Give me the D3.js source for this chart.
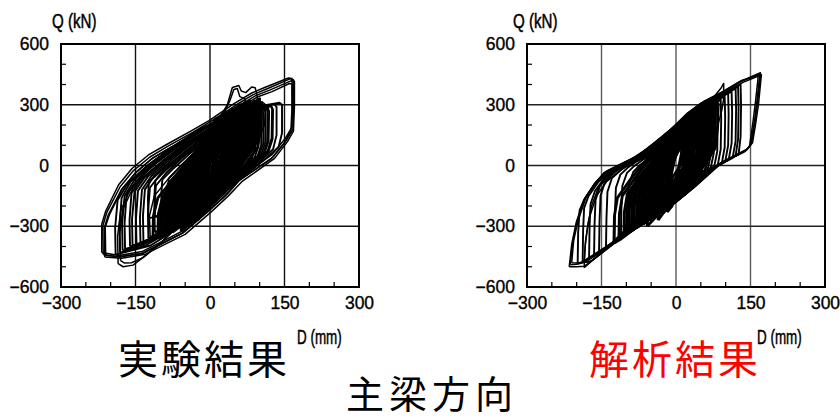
<!DOCTYPE html>
<html>
<head>
<meta charset="utf-8">
<script src="https://cdn.jsdelivr.net/npm/d3@7"></script>
<style>
  html, body { margin: 0; padding: 0; background: #fff; }
  svg { display: block; }
  .tick text { font-family: "Liberation Sans", Arial, sans-serif; }
</style>
</head>
<body>
<svg id="chart" width="840" height="420"></svg>
<script>
// Axis settings (D in mm, Q in kN)
const xTicks = [-300, -150, 0, 150, 300];
const yTicks = [-600, -300, 0, 300, 600];
const xMinor = [-250, -200, -100, -50, 50, 100, 200, 250];
const yMinor = [-500, -400, -200, -100, 100, 200, 400, 500];

// Test hysteresis: each loop is a flat list of D,Q pairs
const expOuter = [
  [-215,-440, -216,-300, -208,-233, -181,-105, -154,-25, -121,42, -87,92, -34,165, 0,215, 50,295, 87,350, 114,378, 161,428, 168,423, 168,300, 167,180, 154,125, 127,42, 60,-72, 34,-143, 0,-220, -54,-333, -101,-392, -134,-432, -181,-452, -215,-440],
  [-212,-452, -213,-310, -205,-245, -178,-118, -150,-38, -118,32, -84,82, -30,155, 4,210, 55,290, 92,345, 120,372, 163,418, 170,416, 170,290, 168,170, 156,118, 130,35, 64,-80, 37,-150, 3,-228, -50,-340, -98,-398, -130,-438, -178,-458, -212,-452],
  [-218,-430, -218,-290, -210,-225, -184,-95, -157,-15, -124,52, -90,100, -37,172, -2,222, 46,302, 84,358, 110,385, 158,432, 165,430, 166,310, 165,190, 152,135, 124,52, 57,-62, 31,-135, -3,-212, -57,-325, -104,-385, -137,-425, -183,-445, -218,-430],
  [-210,-445, -211,-305, -202,-240, -176,-112, -148,-30, -115,38, -80,88, -28,160, 6,212, 58,285, 95,338, 125,365, 160,405, 165,402, 165,280, 163,175, 150,112, 122,30, 55,-78, 30,-150, -5,-225, -58,-337, -105,-395, -138,-436, -186,-450, -210,-445],
  [-185,-485, -186,-350, -180,-225, -160,-115, -130,-25, -95,45, -40,140, 0,200, 40,265, 75,300, 105,315, 112,300, 110,200, 92,100, 55,0, 22,-85, -20,-185, -60,-290, -100,-385, -130,-445, -155,-492, -175,-500, -185,-485],
  [-180,-470, -182,-340, -176,-220, -155,-110, -125,-20, -90,48, -35,142, 5,205, 45,268, 80,305, 100,310, 104,295, 102,190, 85,95, 50,-5, 18,-90, -25,-195, -65,-300, -105,-395, -135,-455, -158,-480, -172,-482, -180,-470],
  [-120,-380, -122,-250, -112,-150, -82,-60, -42,40, -8,130, 18,230, 35,300, 45,385, 58,395, 63,368, 72,360, 84,388, 91,384, 95,340, 96,250, 90,180, 70,100, 40,0, 10,-80, -30,-180, -72,-285, -100,-340, -120,-380],
  [-100,-360, -101,-240, -90,-140, -60,-40, -25,60, 5,150, 25,240, 40,320, 48,375, 55,380, 60,340, 70,330, 76,290, 75,200, 62,120, 35,20, 5,-70, -35,-170, -70,-270, -100,-360]
];

const expMedium = [
  [-190,-440, -191,-310, -186,-170, -166,-90, -126,0, -76,90, -26,170, 34,245, 94,290, 140,310, 145,300, 145,160, 138,90, 110,30, 70,-50, 30,-130, -20,-230, -70,-320, -120,-395, -190,-440],
  [-181,-430, -182,-300, -178,-160, -160,-80, -120,10, -70,100, -20,180, 40,250, 100,292, 130,302, 134,290, 134,150, 127,80, 100,20, 60,-60, 20,-140, -30,-235, -80,-325, -130,-395, -181,-430],
  [-176,-420, -177,-290, -172,-150, -152,-70, -112,15, -66,100, -16,178, 44,250, 98,286, 122,296, 125,280, 124,135, 116,72, 88,10, 48,-70, 8,-152, -42,-248, -92,-338, -138,-392, -176,-420],
  [-171,-412, -172,-285, -168,-145, -148,-75, -108,12, -62,98, -12,178, 48,250, 100,285, 124,292, 127,275, 126,130, 118,70, 92,12, 52,-68, 12,-150, -38,-245, -88,-335, -135,-390, -171,-412],
  [-161,-400, -162,-270, -158,-135, -138,-65, -98,18, -52,105, -2,182, 55,248, 100,278, 117,284, 119,265, 118,120, 110,62, 84,4, 44,-74, 4,-156, -46,-252, -96,-340, -140,-385, -161,-400],
  [-156,-395, -157,-265, -152,-130, -132,-60, -94,22, -48,106, 2,184, 58,246, 98,274, 114,280, 116,262, 115,115, 107,58, 80,0, 40,-80, 0,-160, -50,-258, -98,-340, -144,-388, -156,-395],
  [-148,-390, -149,-262, -145,-125, -125,-55, -88,25, -44,108, 6,185, 60,245, 96,270, 110,276, 112,258, 111,110, 103,55, 78,-3, 38,-82, -4,-164, -54,-262, -100,-340, -148,-390],
  [-140,-385, -141,-255, -137,-120, -118,-52, -82,28, -38,110, 10,186, 62,244, 94,266, 106,272, 108,254, 107,105, 99,52, 75,-6, 35,-85, -7,-167, -57,-266, -102,-341, -140,-385],
  [-134,-378, -135,-250, -131,-118, -112,-50, -76,30, -34,112, 14,188, 64,242, 92,262, 102,268, 104,250, 103,100, 96,48, 72,-10, 32,-88, -10,-170, -60,-270, -104,-342, -134,-378],
  [-124,-360, -125,-240, -121,-110, -100,-42, -65,35, -24,116, 22,190, 68,240, 88,256, 96,262, 98,240, 97,92, 90,40, 66,-16, 26,-96, -16,-178, -66,-276, -106,-335, -124,-360],
  [-111,-330, -112,-220, -109,-100, -88,-36, -55,40, -15,120, 30,195, 70,240, 84,250, 90,255, 92,232, 91,85, 84,32, 60,-22, 20,-104, -22,-186, -70,-278, -111,-330],
  [-124,-260, -125,-160, -123,-80, -100,-30, -60,50, -20,130, 30,200, 70,235, 80,240, 82,210, 80,120, 60,40, 30,-40, -10,-130, -60,-210, -100,-250, -124,-260],
  [-111,-250, -112,-150, -110,-75, -90,-25, -50,55, -10,135, 35,205, 65,232, 74,236, 76,205, 74,115, 55,35, 25,-45, -15,-135, -62,-215, -95,-245, -111,-250],
  [-97,-245, -98,-140, -96,-70, -76,-20, -40,60, 0,140, 40,208, 60,228, 66,230, 68,200, 66,110, 48,30, 18,-50, -20,-140, -65,-220, -90,-240, -97,-245],
  [-84,-238, -85,-130, -83,-65, -64,-15, -30,65, 8,145, 42,205, 56,222, 60,225, 61,195, 60,105, 42,25, 12,-55, -25,-145, -62,-222, -84,-238],
  [-64,-232, -65,-130, -63,-68, -45,-10, -15,70, 18,150, 40,200, 50,215, 52,190, 51,100, 35,20, 8,-60, -25,-150, -50,-215, -64,-232],
  [-90,-300, -91,-180, -85,-90, -60,-20, -20,70, 20,160, 50,220, 78,262, 85,265, 86,240, 85,100, 70,40, 40,-40, 0,-130, -45,-225, -90,-300],
  [-80,-290, -81,-170, -75,-85, -50,-15, -10,75, 25,165, 55,230, 70,258, 74,260, 75,235, 74,95, 60,35, 30,-45, -10,-140, -50,-235, -80,-290],
  [-70,-280, -71,-165, -65,-80, -40,-10, 0,85, 30,170, 52,225, 62,248, 65,250, 66,225, 65,90, 50,28, 20,-55, -20,-150, -50,-240, -70,-280]
];

const expCore = [
  [-58,-325, -57,-140, -45,-60, 0,100, 40,220, 62,300, 61,120, 50,40, 0,-120, -40,-250, -58,-325],
  [-52,-315, -51,-135, -40,-55, 0,95, 36,215, 55,290, 54,115, 44,35, 0,-118, -36,-245, -52,-315],
  [-46,-300, -45,-130, -35,-50, 0,90, 32,210, 50,282, 49,110, 40,32, 0,-112, -32,-238, -46,-300],
  [-40,-290, -39,-120, -30,-45, 0,80, 28,205, 45,275, 44,105, 35,30, 0,-105, -28,-230, -40,-290],
  [-35,-280, -34,-115, -25,-40, 0,75, 24,198, 40,268, 39,100, 30,25, 0,-100, -25,-222, -35,-280],
  [-30,-272, -29,-108, -20,-30, 0,70, 20,190, 35,262, 34,95, 26,20, 0,-95, -20,-212, -30,-272],
  [-25,-262, -24,-100, -15,-20, 0,60, 16,182, 30,255, 29,90, 22,15, 0,-90, -16,-205, -25,-262],
  [-20,-255, -19,-90, -10,-10, 0,50, 12,175, 25,248, 24,85, 18,10, 0,-80, -12,-195, -20,-255],
  [-16,-245, -15,-80, -6,-5, 4,60, 12,180, 20,240, 19,80, 12,0, -2,-90, -10,-190, -16,-245],
  [-12,-235, -11,-70, -4,0, 6,70, 12,185, 16,232, 15,70, 8,-10, -3,-95, -8,-180, -12,-235],
  [-8,-225, -7,-60, 12,230, 11,60, -8,-225],
  [-4,-215, -3,-50, 8,220, 7,50, -4,-215],
  [-50,-290, -49,-120, -38,-40, 5,110, 45,240, 70,310, 69,140, 58,60, 10,-90, -30,-220, -50,-290],
  [-44,-282, -43,-110, -30,-30, 8,110, 42,230, 64,300, 63,130, 52,50, 10,-95, -28,-215, -44,-282],
  [-38,-270, -37,-100, -24,-20, 10,115, 40,225, 58,292, 57,120, 46,42, 8,-92, -24,-205, -38,-270],
  [-32,-260, -31,-95, -18,-15, 12,110, 36,220, 52,285, 51,110, 40,35, 6,-90, -20,-200, -32,-260],
  [-26,-250, -25,-85, -12,-10, 14,115, 32,215, 46,278, 45,105, 34,30, 4,-85, -16,-195, -26,-250],
  [-20,-240, -19,-80, -6,0, 16,120, 30,210, 40,270, 39,100, 28,25, 2,-80, -12,-185, -20,-240],
  [-55,-300, -54,-150, -42,-70, -5,70, 30,190, 48,250, 47,90, 36,15, -5,-130, -38,-250, -55,-300],
  [-60,-310, -59,-160, -48,-80, -10,60, 25,175, 42,235, 41,80, 30,5, -10,-140, -44,-262, -60,-310],
  [-70,-320, -69,-180, -60,-80, -30,20, 0,120, 30,220, 70,310, 69,180, 64,80, 40,-10, 10,-110, -30,-230, -70,-320],
  [-75,-330, -74,-200, -66,-100, -36,0, -5,100, 25,200, 80,320, 79,200, 74,100, 50,10, 15,-100, -25,-220, -75,-330],
  [-65,-310, -64,-190, -56,-100, -26,10, 5,120, 40,230, 90,320, 89,200, 84,110, 60,20, 25,-80, -15,-200, -65,-310],
  [-45,-290, -44,-170, -34,-70, -8,40, 20,150, 50,250, 85,305, 84,190, 78,90, 55,0, 20,-100, -12,-210, -45,-290],
  [-55,-300, -54,-180, -45,-90, -18,20, 12,130, 45,240, 75,300, 74,180, 68,80, 45,-10, 14,-110, -20,-220, -55,-300],
  [-85,-340, -84,-220, -76,-120, -46,-10, -15,90, 15,190, 55,280, 54,160, 48,60, 25,-30, -5,-130, -45,-250, -85,-340],
  [-35,-280, -34,-160, -24,-60, 2,60, 30,170, 60,260, 95,320, 94,200, 88,110, 65,20, 30,-80, -2,-190, -35,-280],
  [-95,-350, -94,-230, -86,-130, -56,-30, -25,70, 5,170, 40,260, 39,140, 33,40, 12,-50, -18,-150, -55,-270, -95,-350],
  [-25,-270, -24,-150, -14,-50, 10,70, 36,180, 66,270, 100,330, 99,210, 94,120, 70,30, 36,-70, 6,-180, -25,-270],
  [-62,-290, -61,-170, -52,-80, -22,30, 8,140, 38,235, 58,280, 57,160, 52,60, 30,-30, 0,-140, -30,-230, -62,-290],
  [-90,-330, -89,-210, -80,-120, -50,-30, -20,60, 10,160, 45,250, 70,290, 69,170, 62,70, 35,-20, 5,-110, -40,-230, -90,-330],
  [-82,-320, -81,-200, -72,-110, -42,-20, -12,70, 18,170, 52,255, 78,300, 77,180, 70,80, 43,-10, 13,-100, -32,-220, -82,-320],
  [-74,-315, -73,-190, -64,-100, -34,-10, -4,80, 26,180, 58,260, 86,305, 85,185, 78,90, 51,0, 21,-90, -24,-210, -74,-315],
  [-68,-300, -67,-185, -58,-95, -28,0, 2,90, 32,185, 62,265, 92,310, 91,190, 84,95, 57,5, 27,-85, -18,-205, -68,-300],
  [-60,-295, -59,-175, -50,-85, -20,10, 10,100, 40,195, 70,270, 98,315, 97,195, 90,100, 63,10, 33,-80, -10,-200, -60,-295],
  [-100,-345, -99,-230, -90,-140, -60,-50, -30,40, 0,140, 35,235, 55,270, 54,150, 47,50, 20,-40, -10,-130, -50,-250, -100,-345],
  [-88,-300, -87,-180, -78,-90, -48,0, -18,90, 12,180, 40,240, 60,275, 59,160, 52,60, 25,-30, -5,-120, -45,-220, -88,-300],
  [-78,-295, -77,-175, -68,-85, -38,5, -8,95, 22,185, 48,245, 68,280, 67,165, 60,65, 33,-25, 3,-115, -35,-215, -78,-295],
  [-66,-285, -65,-165, -56,-75, -26,15, 4,105, 34,195, 58,255, 78,290, 77,175, 70,75, 43,-15, 13,-105, -23,-205, -66,-285],
  [-54,-275, -53,-155, -44,-65, -14,25, 16,115, 46,205, 68,260, 88,295, 87,180, 80,80, 53,-10, 23,-100, -11,-195, -54,-275],
  [-42,-265, -41,-145, -32,-55, -2,35, 28,125, 56,210, 78,265, 96,300, 95,185, 88,85, 61,-5, 31,-95, 0,-185, -42,-265],
  [-30,-255, -29,-135, -20,-45, 10,45, 38,135, 64,215, 84,265, 104,305, 103,190, 96,90, 69,0, 39,-90, 10,-175, -30,-255],
  [-105,-360, -104,-240, -95,-150, -65,-60, -35,30, -5,125, 25,210, 45,250, 44,130, 37,30, 10,-60, -20,-150, -60,-270, -105,-360],
  [-115,-370, -114,-250, -105,-160, -75,-70, -45,20, -15,110, 15,195, 35,235, 34,120, 27,20, 0,-70, -30,-160, -70,-280, -115,-370]
];

// Analysis hysteresis
const anaOuter = [
  [-215,-500, -210,-390, -201,-282, -185,-167, -165,-93, -145,-36, -118,-3, -78,46, -44,112, -11,177, 23,259, 50,308, 90,358, 130,415, 170,458, 170,440, 165,330, 160,230, 152,110, 143,79, 90,13, 56,-44, 23,-134, -11,-200, -57,-266, -98,-331, -131,-397, -165,-462, -185,-498, -200,-500, -215,-500],
  [-213,-490, -208,-380, -199,-275, -183,-160, -163,-88, -142,-32, -115,2, -75,50, -40,118, -8,182, 26,262, 54,312, 94,362, 134,418, 168,452, 168,432, 163,320, 158,220, 150,100, 140,72, 88,8, 52,-50, 20,-140, -14,-206, -60,-272, -100,-338, -135,-405, -170,-470, -200,-488, -213,-490],
  [-185,-505, -183,-400, -178,-300, -170,-200, -155,-100, -135,-40, -110,0, -72,52, -38,116, -5,182, 28,262, 56,312, 96,360, 136,412, 172,448, 171,425, 166,300, 160,200, 154,112, 144,82, 92,16, 58,-40, 25,-130, -9,-196, -55,-262, -96,-328, -130,-394, -163,-458, -185,-505],
  [-210,-480, -206,-370, -197,-270, -181,-155, -161,-82, -140,-28, -112,6, -72,55, -38,120, -5,186, 29,266, 56,316, 95,366, 132,420, 165,445, 165,425, 160,315, 155,215, 148,95, 138,68, 86,4, 50,-54, 18,-144, -16,-210, -62,-276, -102,-342, -138,-408, -172,-474, -200,-482, -210,-480],
  [-185,-470, -182,-370, -175,-260, -160,-150, -140,-80, -110,-20, -70,40, -30,105, 10,185, 40,260, 70,320, 90,380, 96,405, 96,330, 92,270, 80,160, 70,80, 60,-20, 30,-110, -10,-190, -60,-265, -100,-335, -140,-400, -185,-470]
];

const anaMedium = [
  [-198,-485, -197,-330, -194,-220, -185,-170, -165,-95, -140,-35, -100,15, -50,95, 0,200, 50,300, 100,365, 126,395, 130,400, 131,300, 130,140, 126,55, 90,10, 40,-100, 0,-180, -50,-255, -100,-330, -150,-425, -180,-470, -198,-485],
  [-188,-475, -187,-320, -185,-210, -176,-150, -156,-80, -130,-25, -92,22, -44,105, 4,205, 52,300, 98,360, 121,385, 125,390, 126,290, 125,130, 120,48, 86,4, 36,-108, -4,-188, -54,-262, -104,-338, -152,-428, -175,-462, -188,-475],
  [-175,-460, -174,-300, -172,-190, -163,-125, -143,-60, -118,-15, -84,30, -38,112, 8,208, 54,300, 96,355, 116,375, 120,380, 121,280, 120,120, 114,38, 80,-4, 32,-115, -8,-195, -58,-270, -108,-345, -150,-420, -175,-460],
  [-165,-445, -164,-290, -162,-170, -153,-100, -133,-45, -108,-5, -76,36, -32,118, 12,210, 56,298, 94,346, 108,360, 112,365, 113,260, 112,110, 106,28, 74,-12, 28,-122, -12,-202, -62,-278, -110,-352, -148,-418, -165,-445],
  [-155,-430, -154,-280, -152,-150, -143,-80, -123,-32, -100,4, -68,42, -26,124, 16,212, 58,296, 92,340, 102,352, 105,355, 106,250, 105,100, 99,18, 68,-20, 24,-128, -16,-208, -66,-285, -112,-358, -140,-402, -155,-430],
  [-141,-410, -140,-260, -138,-130, -129,-62, -110,-20, -90,12, -60,48, -20,130, 20,214, 60,292, 90,332, 96,338, 98,340, 99,240, 98,90, 92,8, 62,-28, 20,-134, -20,-214, -70,-292, -114,-364, -141,-410],
  [-124,-385, -123,-240, -121,-110, -112,-45, -96,-8, -78,22, -50,58, -14,136, 24,216, 62,288, 84,315, 90,325, 91,230, 90,80, 84,2, 56,-36, 16,-140, -24,-220, -74,-298, -112,-368, -124,-385],
  [-111,-360, -110,-220, -108,-100, -99,-38, -84,-2, -66,30, -40,66, -6,140, 28,218, 64,285, 80,306, 83,312, 84,210, 83,70, 77,-4, 50,-44, 12,-146, -28,-226, -76,-302, -111,-360],
  [-98,-335, -97,-200, -95,-90, -86,-32, -72,4, -54,36, -30,74, 2,146, 32,220, 64,280, 74,296, 76,300, 77,200, 76,60, 70,-10, 44,-52, 8,-152, -32,-232, -78,-306, -98,-335],
  [-85,-312, -84,-190, -82,-80, -73,-26, -60,10, -42,44, -20,82, 10,152, 36,222, 62,272, 68,286, 70,290, 71,190, 70,50, 64,-16, 38,-58, 4,-156, -36,-236, -70,-290, -85,-312],
  [-71,-290, -70,-180, -68,-75, -60,-20, -48,16, -30,52, -8,92, 18,158, 40,222, 58,266, 63,280, 64,180, 63,40, 58,-22, 32,-66, 0,-160, -40,-240, -71,-290],
  [-58,-270, -57,-170, -55,-70, -46,-15, -34,22, -18,60, 4,104, 26,170, 44,228, 56,262, 58,275, 59,170, 58,30, 52,-28, 26,-74, -6,-166, -34,-236, -58,-270]
];

const anaCore = [
  [-50,-255, -49,-110, -40,-20, 0,120, 30,210, 50,270, 49,140, 45,30, 20,-80, -20,-190, -50,-255],
  [-45,-248, -44,-100, -35,-12, 2,125, 28,210, 45,262, 44,130, 40,22, 16,-85, -20,-195, -45,-248],
  [-40,-240, -39,-95, -30,-8, 4,130, 26,208, 40,255, 39,120, 34,15, 12,-90, -20,-198, -40,-240],
  [-35,-232, -34,-85, -25,0, 6,135, 24,205, 35,245, 34,110, 28,10, 8,-95, -18,-200, -35,-232],
  [-30,-225, -29,-75, -20,10, 8,140, 22,200, 30,238, 29,100, 22,0, 4,-100, -15,-195, -30,-225],
  [-25,-218, -24,-65, -14,20, 10,145, 20,198, 26,230, 25,90, 18,-5, 0,-105, -12,-190, -25,-218],
  [-20,-210, -19,-55, -8,30, 12,150, 18,195, 22,222, 21,80, 14,-10, -2,-110, -10,-180, -20,-210],
  [-15,-202, -14,-45, 16,215, 15,70, -15,-202],
  [-10,-195, -9,-40, 12,205, 11,60, -10,-195],
  [-55,-262, -54,-120, -44,-30, 0,110, 32,215, 55,280, 54,150, 50,40, 22,-70, -22,-185, -55,-262],
  [-62,-275, -61,-140, -50,-50, -10,85, 30,200, 52,268, 51,120, 46,20, 15,-90, -28,-200, -62,-275],
  [-38,-250, -37,-110, -26,-20, 8,120, 34,220, 48,270, 47,130, 40,25, 14,-85, -18,-195, -38,-250],
  [-28,-240, -27,-95, -16,-5, 12,130, 30,215, 40,262, 39,115, 30,18, 8,-95, -12,-200, -28,-240],
  [-18,-230, -17,-80, -6,10, 14,140, 26,210, 32,250, 31,100, 22,10, 4,-100, -8,-200, -18,-230],
  [-70,-285, -69,-150, -60,-60, -30,40, 0,150, 30,235, 60,300, 59,180, 55,60, 30,-40, 0,-130, -35,-215, -70,-285],
  [-75,-300, -74,-160, -66,-70, -36,20, -5,120, 25,215, 65,305, 64,190, 60,70, 34,-30, 5,-120, -30,-205, -75,-300],
  [-80,-305, -79,-190, -72,-90, -40,5, -10,100, 20,200, 48,285, 47,170, 42,50, 20,-50, -10,-150, -45,-240, -80,-305],
  [-66,-290, -65,-170, -58,-80, -28,15, 0,110, 28,215, 70,312, 69,200, 65,80, 40,-10, 8,-110, -28,-205, -66,-290],
  [-48,-265, -47,-150, -38,-60, -12,50, 14,150, 38,240, 62,295, 61,190, 57,70, 36,-5, 10,-100, -20,-190, -48,-265],
  [-42,-255, -41,-140, -30,-40, -4,80, 20,170, 44,255, 66,300, 65,200, 60,90, 40,5, 12,-90, -15,-180, -42,-255],
  [-90,-320, -89,-200, -82,-110, -56,-20, -25,70, 10,170, 40,250, 39,140, 34,20, 10,-70, -20,-160, -55,-250, -90,-320],
  [-58,-300, -57,-190, -50,-100, -22,0, 8,110, 36,210, 54,270, 53,150, 48,40, 25,-55, -5,-150, -35,-240, -58,-300],
  [-36,-270, -35,-160, -25,-60, 0,50, 24,150, 46,230, 72,305, 71,210, 67,100, 46,20, 16,-80, -10,-180, -36,-270],
  [-100,-335, -99,-220, -92,-130, -66,-40, -36,50, 0,150, 30,230, 29,120, 24,10, 0,-80, -30,-170, -65,-265, -100,-335],
  [-105,-345, -104,-230, -98,-140, -72,-50, -42,40, -6,140, 24,220, 40,262, 39,150, 34,40, 10,-50, -22,-145, -60,-250, -105,-345],
  [-95,-330, -94,-215, -88,-125, -62,-35, -32,55, 4,150, 34,230, 50,272, 49,160, 44,50, 20,-40, -12,-135, -50,-240, -95,-330],
  [-85,-315, -84,-200, -78,-110, -52,-20, -22,70, 14,160, 44,240, 60,282, 59,170, 54,60, 30,-30, -2,-125, -40,-230, -85,-315],
  [-75,-300, -74,-185, -68,-95, -42,-5, -12,85, 24,170, 54,250, 70,292, 69,180, 64,70, 40,-20, 8,-115, -30,-220, -75,-300],
  [-65,-285, -64,-170, -58,-80, -32,10, -2,100, 34,180, 64,260, 80,302, 79,190, 74,80, 50,-10, 18,-105, -20,-210, -65,-285],
  [-115,-360, -114,-240, -108,-150, -82,-60, -52,30, -16,130, 14,210, 30,250, 29,140, 24,30, 0,-60, -32,-155, -70,-260, -115,-360],
  [-125,-375, -124,-250, -118,-160, -92,-70, -62,20, -26,120, 4,200, 20,240, 19,130, 14,20, -10,-70, -42,-165, -80,-270, -125,-375],
  [-88,-320, -87,-205, -80,-115, -54,-25, -24,65, 12,160, 40,235, 55,275, 54,165, 49,55, 25,-35, -7,-130, -45,-235, -88,-320],
  [-78,-305, -77,-190, -70,-100, -44,-10, -14,80, 22,170, 50,245, 65,285, 64,175, 59,65, 35,-25, 3,-120, -35,-225, -78,-305],
  [-68,-290, -67,-175, -60,-85, -34,5, -4,95, 32,180, 60,255, 75,295, 74,185, 69,75, 45,-15, 13,-110, -25,-215, -68,-290],
  [-52,-275, -51,-160, -44,-70, -18,20, 12,110, 42,195, 70,270, 85,305, 84,195, 79,85, 55,-5, 23,-100, -15,-200, -52,-275]
];

// stroke width per loop group: outer envelope, intermediate cycles, small dense cycles
const groupWidths = { outer: 1.5, medium: 1.9, core: 2.8 };

const panels = [
  { id: "exp", left: 61, right: 359, title: "実験結果", titleColor: "#000", titleX: 204,
    groups: { outer: expOuter, medium: expMedium, core: expCore }, vGrid: "#111", hGrid: "#111",
    qLabelX: 52, dLabelX: 297 },
  { id: "ana", left: 527, right: 825, title: "解析結果", titleColor: "#ff0000", titleX: 675,
    groups: { outer: anaOuter, medium: anaMedium, core: anaCore }, vGrid: "#5a5a5a", hGrid: "#222",
    qLabelX: 513, dLabelX: 757 }
];

const svg = d3.select("#chart");
const plotTop = 44, plotBottom = 287;
const labelFont = "'Liberation Sans', Arial, sans-serif";

const toPairs = flat => d3.range(0, flat.length, 2).map(i => [flat[i], flat[i + 1]]);

panels.forEach(p => {
  const x = d3.scaleLinear().domain([-300, 300]).range([p.left, p.right]);
  const y = d3.scaleLinear().domain([-600, 600]).range([plotBottom, plotTop]);
  const g = svg.append("g");

  g.append("clipPath").attr("id", "clip-" + p.id)
    .append("rect").attr("x", p.left).attr("y", plotTop)
    .attr("width", p.right - p.left).attr("height", plotBottom - plotTop);

  // grid
  g.append("g").selectAll("line").data([-150, 0, 150]).join("line")
    .attr("x1", d => x(d)).attr("x2", d => x(d)).attr("y1", plotTop).attr("y2", plotBottom)
    .attr("stroke", p.vGrid).attr("stroke-width", 1.4);
  g.append("g").selectAll("line").data([-300, 0, 300]).join("line")
    .attr("y1", d => y(d)).attr("y2", d => y(d)).attr("x1", p.left).attr("x2", p.right)
    .attr("stroke", p.hGrid).attr("stroke-width", 1.4);

  // minor ticks pointing inward
  g.append("g").selectAll("line").data(xMinor).join("line")
    .attr("x1", d => x(d)).attr("x2", d => x(d)).attr("y1", plotBottom).attr("y2", plotBottom - 5)
    .attr("stroke", "#000").attr("stroke-width", 1.2);
  g.append("g").selectAll("line").data(yMinor).join("line")
    .attr("y1", d => y(d)).attr("y2", d => y(d)).attr("x1", p.left).attr("x2", p.left + 5)
    .attr("stroke", "#000").attr("stroke-width", 1.2);

  // hysteresis loops
  const line = d3.line().x(d => x(d[0])).y(d => y(d[1]));
  const loopLayer = g.append("g").attr("clip-path", `url(#clip-${p.id})`);
  ["core", "medium", "outer"].forEach(key => {
    loopLayer.append("g").selectAll("path").data(p.groups[key]).join("path")
      .attr("d", d => line(toPairs(d)))
      .attr("fill", "none").attr("stroke", "#000").attr("stroke-width", groupWidths[key])
      .attr("stroke-linejoin", "round");
  });

  // frame
  g.append("rect").attr("x", p.left).attr("y", plotTop)
    .attr("width", p.right - p.left).attr("height", plotBottom - plotTop)
    .attr("fill", "none").attr("stroke", "#000").attr("stroke-width", 2);

  // tick labels
  const xAxis = d3.axisBottom(x).tickValues(xTicks).tickSize(0).tickPadding(10);
  const yAxis = d3.axisLeft(y).tickValues(yTicks).tickSize(0).tickPadding(12);
  const gx = g.append("g").attr("transform", `translate(0,${plotBottom})`).call(xAxis);
  const gy = g.append("g").attr("transform", `translate(${p.left},0)`).call(yAxis);
  [gx, gy].forEach(a => {
    a.select(".domain").remove();
    a.selectAll("text").attr("font-size", 17.5).attr("fill", "#000")
      .attr("stroke", "#000").attr("stroke-width", 0.35);
  });

  // axis titles, in a condensed face
  g.append("text").attr("transform", `translate(${p.qLabelX},28) scale(0.72,1)`)
    .attr("font-family", labelFont).attr("font-size", 21)
    .attr("stroke", "#000").attr("stroke-width", 0.5).text("Q (kN)");
  g.append("text").attr("transform", `translate(${p.dLabelX},344) scale(0.64,1)`)
    .attr("font-family", labelFont).attr("font-size", 21)
    .attr("stroke", "#000").attr("stroke-width", 0.5).text("D (mm)");

  g.append("text").attr("x", p.titleX).attr("y", 374).attr("text-anchor", "middle")
    .attr("font-family", "'Noto Sans CJK JP', sans-serif").attr("font-size", 40)
    .attr("letter-spacing", 3).attr("fill", p.titleColor).text(p.title);
});

svg.append("text").attr("x", 432).attr("y", 408).attr("text-anchor", "middle")
  .attr("font-family", "'Noto Sans CJK JP', sans-serif").attr("font-size", 38)
  .attr("letter-spacing", 5).attr("fill", "#000").text("主梁方向");
</script>
</body>
</html>
